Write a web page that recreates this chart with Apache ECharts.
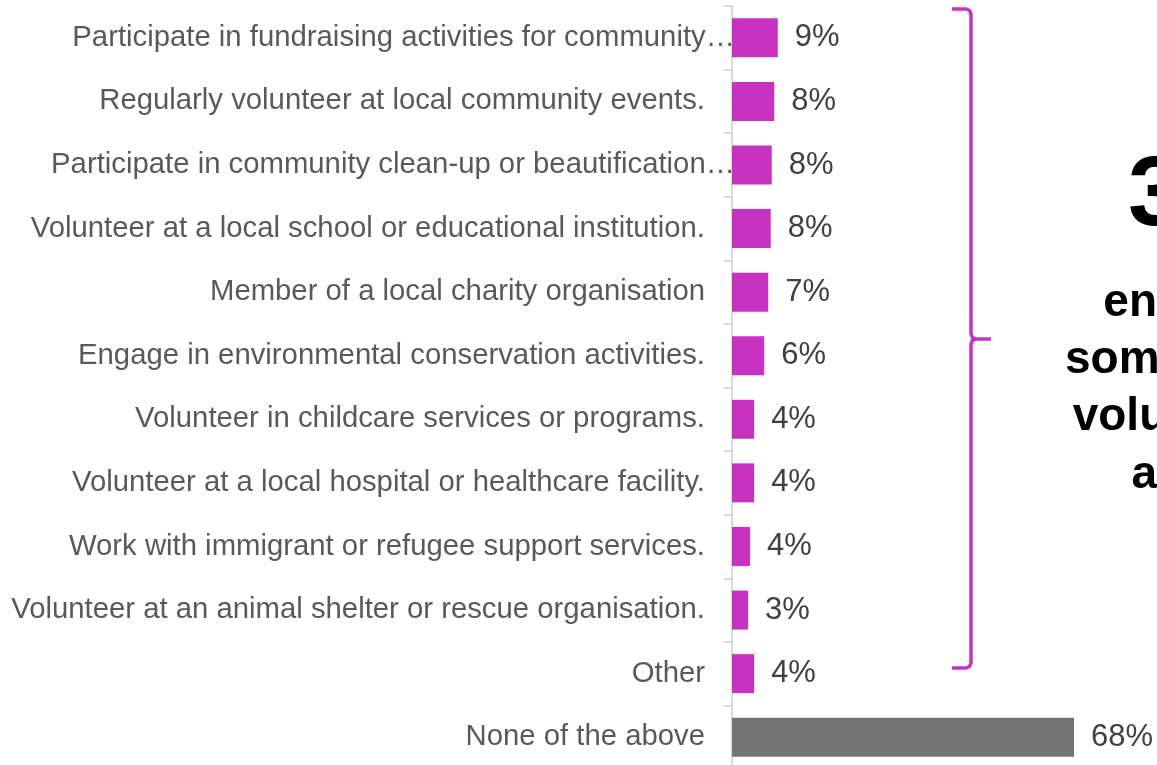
<!DOCTYPE html>
<html>
<head>
<meta charset="utf-8">
<script src="https://cdn.jsdelivr.net/npm/echarts@6/dist/echarts.min.js"></script>
<style>
html,body{margin:0;padding:0;background:#fff;}
#chart{width:1157px;height:765px;}
</style>
</head>
<body>
<div id="chart"></div>
<script>
// ---- data ----
var categories = [
  'Participate in fundraising activities for community…',
  'Regularly volunteer at local community events.',
  'Participate in community clean-up or beautification…',
  'Volunteer at a local school or educational institution.',
  'Member of a local charity organisation',
  'Engage in environmental conservation activities.',
  'Volunteer in childcare services or programs.',
  'Volunteer at a local hospital or healthcare facility.',
  'Work with immigrant or refugee support services.',
  'Volunteer at an animal shelter or rescue organisation.',
  'Other',
  'None of the above'
];
var values = [9.1, 8.4, 7.9, 7.7, 7.2, 6.4, 4.4, 4.4, 3.6, 3.2, 4.4, 68];
var annotationNumber = '32%';
var annotationLines = ['engage in', 'some form of', 'volunteering', 'activity'];

// ---- chart ----
var MAGENTA = '#C832C0';
var GRAY = '#747474';
var FONT = '"Liberation Sans", Arial, sans-serif';

var chart = echarts.init(document.getElementById('chart'), null, {renderer: 'canvas'});

var ANN_FONT = 46;
var lineBaselines = [319.5, 376, 433.5, 491];
var braceStyle = {stroke: MAGENTA, lineWidth: 3.5, fill: null};
var graphics = [
  {
    type: 'polyline',
    shape: {points: [[952,9],[966,9],[969.5,10.5],[971,14],[971,334],[972.5,337.5],[976,339],[991,339]]},
    style: braceStyle,
    silent: true
  },
  {
    type: 'polyline',
    shape: {points: [[976,339],[972.5,340.5],[971,344],[971,663],[969.5,666.5],[966,668],[952,668]]},
    style: braceStyle,
    silent: true
  },
  {
    type: 'text',
    style: {
      text: annotationNumber,
      x: 1128, y: 197.7,
      font: 'bold 99px ' + FONT,
      fill: '#000',
      textAlign: 'left',
      textVerticalAlign: 'middle'
    },
    silent: true
  }
];
annotationLines.forEach(function (t, i) {
  graphics.push({
    type: 'text',
    style: {
      text: t,
      x: 1210.7, y: lineBaselines[i] - 0.3465 * ANN_FONT,
      font: 'bold ' + ANN_FONT + 'px ' + FONT,
      fill: '#000',
      textAlign: 'center',
      textVerticalAlign: 'middle'
    },
    silent: true
  });
});

var option = {
  animation: false,
  backgroundColor: '#fff',
  grid: {
    left: 732, right: 22.6, top: 6, bottom: -4,
    containLabel: false,
    outerBoundsMode: 'none'
  },
  xAxis: {
    type: 'value', min: 0, max: 80, show: false
  },
  yAxis: {
    type: 'category',
    inverse: true,
    data: categories,
    axisLine: {show: true, lineStyle: {color: '#D9D9D9', width: 2}},
    axisTick: {show: true, length: 8, lineStyle: {color: '#D9D9D9', width: 2}},
    splitLine: {show: false},
    axisLabel: {
      interval: 0,
      margin: -3,
      fontFamily: FONT,
      fontSize: 29.3,
      color: '#595959',
      formatter: function (v) {
        if (v.charAt(v.length - 1) === '…') return '{t|' + v + '}';
        return '{n|' + v + '}';
      },
      rich: {
        t: {fontFamily: FONT, fontSize: 29.3, color: '#595959'},
        n: {fontFamily: FONT, fontSize: 29.3, color: '#595959', padding: [0, 30, 0, 0]}
      }
    }
  },
  series: [{
    type: 'bar',
    data: values,
    barWidth: 39,
    itemStyle: {
      color: function (p) { return p.dataIndex === values.length - 1 ? GRAY : MAGENTA; }
    },
    label: {
      show: true,
      position: 'right',
      distance: 17,
      fontFamily: FONT,
      fontSize: 31,
      color: '#404040',
      formatter: function (p) { return Math.round(p.value) + '%'; }
    }
  }],
  graphic: graphics
};
chart.setOption(option);
</script>
</body>
</html>
